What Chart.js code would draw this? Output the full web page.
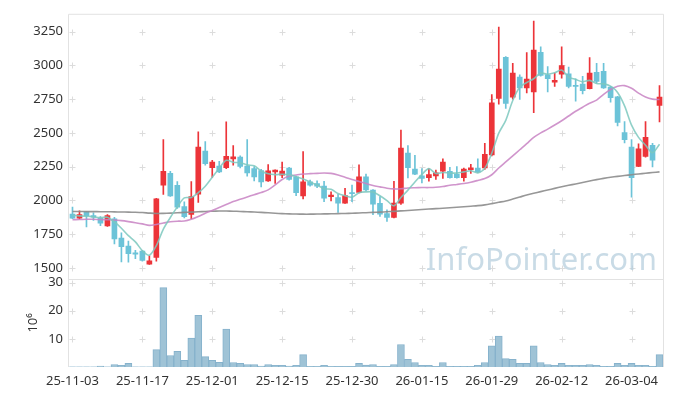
<!DOCTYPE html>
<html>
<head>
<meta charset="utf-8">
<script src="https://cdn.jsdelivr.net/npm/chart.js@4/dist/chart.umd.min.js"></script>
<style>
  html, body { margin: 0; padding: 0; background: #fff; }
  canvas { display: block; }
</style>
</head>
<body>
<canvas id="stockChart" width="673" height="396"></canvas>
<script>
// ===== DATA =====
const labels = [
  "25-11-03","25-11-04","25-11-05","25-11-06","25-11-07","25-11-10","25-11-11","25-11-12","25-11-13","25-11-14",
  "25-11-17","25-11-18","25-11-19","25-11-20","25-11-21","25-11-24","25-11-25","25-11-26","25-11-27","25-11-28",
  "25-12-01","25-12-02","25-12-03","25-12-04","25-12-05","25-12-08","25-12-09","25-12-10","25-12-11","25-12-12",
  "25-12-15","25-12-16","25-12-17","25-12-18","25-12-19","25-12-22","25-12-23","25-12-24","25-12-26","25-12-29",
  "25-12-30","26-01-02","26-01-05","26-01-06","26-01-07","26-01-08","26-01-09","26-01-12","26-01-13","26-01-14",
  "26-01-15","26-01-16","26-01-19","26-01-20","26-01-21","26-01-22","26-01-23","26-01-26","26-01-27","26-01-28",
  "26-01-29","26-01-30","26-02-02","26-02-03","26-02-04","26-02-05","26-02-06","26-02-09","26-02-10","26-02-11",
  "26-02-12","26-02-13","26-02-19","26-02-20","26-02-23","26-02-24","26-02-25","26-02-26","26-02-27","26-03-03",
  "26-03-04","26-03-05","26-03-06","26-03-09","26-03-10"
];

const openPrices = [
  1898, 1869, 1916, 1888, 1869, 1810, 1864, 1720, 1661, 1612,
  1625, 1527, 1577, 2113, 2201, 2112, 1954, 1897, 2047, 2365,
  2242, 2254, 2242, 2308, 2321, 2254, 2235, 2220, 2145, 2211,
  2186, 2240, 2174, 2033, 2137, 2125, 2106, 2028, 2020, 1979,
  2057, 2059, 2174, 2077, 1979, 1903, 1874, 1979, 2350, 2231,
  2181, 2169, 2182, 2216, 2216, 2194, 2169, 2228, 2240, 2240,
  2337, 2755, 3060, 2765, 2913, 2833, 2804, 3096, 2930, 2875,
  2935, 2938, 2852, 2862, 2828, 2948, 2955, 2840, 2767, 2503,
  2394, 2252, 2326, 2408, 2704
];
const highPrices = [
  1950, 1923, 1918, 1908, 1881, 1895, 1875, 1760, 1698, 1630,
  1630, 1590, 2015, 2450, 2215, 2140, 1990, 2140, 2508, 2435,
  2296, 2290, 2582, 2406, 2330, 2450, 2250, 2230, 2265, 2226,
  2284, 2245, 2180, 2362, 2150, 2145, 2142, 2064, 2044, 2089,
  2113, 2264, 2195, 2080, 2029, 1930, 2142, 2520, 2406, 2333,
  2235, 2235, 2224, 2308, 2245, 2250, 2240, 2267, 2308, 2423,
  2784, 3284, 3065, 3016, 2930, 3094, 3328, 3138, 2991, 2943,
  3138, 2987, 2900, 2918, 3057, 3016, 3016, 2845, 2770, 2584,
  2450, 2418, 2584, 2423, 2850
];
const lowPrices = [
  1865, 1862, 1803, 1852, 1813, 1808, 1678, 1545, 1543, 1569,
  1550, 1525, 1550, 2045, 2030, 1940, 1870, 1865, 1985, 2260,
  2170, 2205, 2235, 2260, 2240, 2180, 2145, 2100, 2140, 2125,
  2169, 2150, 2035, 2011, 2105, 2095, 1990, 1996, 1910, 1978,
  1990, 2055, 2070, 1894, 1882, 1845, 1870, 1970, 2167, 2190,
  2130, 2142, 2155, 2162, 2165, 2165, 2142, 2199, 2205, 2230,
  2330, 2713, 2681, 2750, 2747, 2796, 2650, 2920, 2804, 2845,
  2906, 2833, 2735, 2789, 2825, 2869, 2830, 2728, 2552, 2425,
  2023, 2250, 2320, 2247, 2582
];
const closePrices = [
  1869, 1894, 1887, 1876, 1832, 1888, 1715, 1657, 1605, 1601,
  1555, 1552, 2011, 2216, 2033, 1950, 1880, 2029, 2394, 2272,
  2284, 2210, 2327, 2323, 2252, 2203, 2174, 2137, 2219, 2224,
  2218, 2155, 2057, 2137, 2113, 2106, 2016, 2040, 1979, 2035,
  2050, 2174, 2077, 1972, 1898, 1874, 1981, 2387, 2242, 2195,
  2162, 2191, 2204, 2284, 2169, 2169, 2231, 2242, 2210, 2342,
  2723, 2972, 2718, 2943, 2833, 2899, 3113, 2925, 2901, 2889,
  2999, 2845, 2845, 2813, 2943, 2882, 2833, 2760, 2577, 2450,
  2169, 2381, 2467, 2298, 2765
];

// volume, millions of shares
const volumes = [
  0.1, 0.05, 0.05, 0.05, 0.35, 0.05, 0.9, 0.6, 1.3, 0.05,
  0.05, 0.1, 6.2, 28.2, 4.1, 5.6, 2.4, 10.3, 18.4, 3.7,
  2.4, 1.7, 13.5, 1.6, 1.3, 0.9, 0.9, 0.35, 0.9, 0.6,
  0.6, 0.35, 0.6, 4.4, 0.25, 0.25, 0.6, 0.25, 0.2, 0.2,
  0.2, 1.3, 0.7, 0.9, 0.2, 0.2, 0.9, 8.0, 2.7, 1.6,
  0.6, 0.6, 0.2, 1.6, 0.2, 0.2, 0.2, 0.2, 0.6, 1.6,
  7.5, 11.0, 3.0, 2.7, 1.3, 1.3, 7.5, 1.6, 0.9, 0.6,
  1.3, 0.6, 0.6, 0.6, 0.9, 0.6, 0.2, 0.2, 1.3, 0.6,
  1.3, 0.6, 0.6, 0.2, 4.4
];

const ma5 = [
  1890, 1885, 1882, 1878, 1872, 1875, 1840, 1794, 1739, 1693,
  1627, 1594, 1665, 1787, 1873, 1952, 2018, 2022, 2057, 2105,
  2172, 2238, 2297, 2283, 2279, 2263, 2256, 2218, 2197, 2191,
  2194, 2191, 2175, 2158, 2136, 2114, 2086, 2082, 2051, 2035,
  2024, 2056, 2063, 2062, 2034, 1999, 1960, 2022, 2076, 2136,
  2193, 2235, 2199, 2207, 2202, 2203, 2211, 2219, 2204, 2239,
  2350, 2498, 2593, 2740, 2838, 2873, 2901, 2943, 2934, 2945,
  2965, 2912, 2896, 2878, 2889, 2866, 2863, 2846, 2799, 2700,
  2558, 2467, 2409, 2353, 2416
];
const ma20 = [
  1857, 1858, 1860, 1860, 1858, 1857, 1855, 1850, 1843, 1835,
  1826, 1815, 1822, 1832, 1842, 1846, 1847, 1860, 1881, 1905,
  1925, 1948, 1970, 1991, 2008, 2025, 2042, 2058, 2078, 2115,
  2155, 2180, 2188, 2195, 2198, 2200, 2203, 2200, 2188, 2172,
  2155, 2140, 2125, 2110, 2100, 2090, 2085, 2086, 2092, 2094,
  2095, 2095, 2097, 2103, 2112, 2118, 2125, 2135, 2148, 2162,
  2190, 2240, 2285, 2330, 2375, 2420, 2467, 2500, 2528, 2558,
  2590, 2625, 2660, 2690, 2720, 2743, 2785, 2821, 2845, 2850,
  2830, 2795, 2765, 2750, 2747
];
const ma120 = [
  1918, 1918, 1917, 1917, 1916, 1916, 1915, 1914, 1913, 1912,
  1910, 1906, 1903, 1904, 1906, 1908, 1911, 1913, 1916, 1918,
  1920, 1921, 1921, 1920, 1918, 1916, 1914, 1911, 1908, 1905,
  1902, 1900, 1899, 1898, 1898, 1899, 1900, 1901, 1902, 1903,
  1905, 1907, 1909, 1911, 1913, 1916, 1919, 1922, 1925, 1929,
  1933, 1936, 1939, 1942, 1945, 1949, 1953, 1957, 1961, 1967,
  1976, 1986, 1996, 2010, 2025, 2040, 2053, 2065, 2077, 2089,
  2101, 2112, 2122, 2133, 2144, 2154, 2163, 2171, 2178, 2184,
  2190, 2196, 2201, 2206, 2211
];

const priceTicks = [1500, 1750, 2000, 2250, 2500, 2750, 3000, 3250];
const volumeTicks = [10, 20, 30];

// ===== STYLE =====
const UP = "#ec3439";
const DOWN = "#6cc3d8";
const FONT = { family: "'Noto Sans', sans-serif", size: 13 };
const TEXT = "#333";

const candleColors = closePrices.map((c, i) => (c >= openPrices[i] ? UP : DOWN));

// ===== PLUGINS =====
const gridCrosses = {
  id: "gridCrosses",
  beforeDatasetsDraw(chart) {
    const { ctx, scales, chartArea } = chart;
    ctx.save();

    // frame: left, top, right + pane divider
    ctx.strokeStyle = "#e2e2e2";
    ctx.lineWidth = 1;
    ctx.beginPath();
    ctx.moveTo(chartArea.left - 0.5, chartArea.bottom);
    ctx.lineTo(chartArea.left - 0.5, chartArea.top + 0.5);
    ctx.lineTo(chartArea.right + 0.5, chartArea.top + 0.5);
    ctx.lineTo(chartArea.right + 0.5, chartArea.bottom);
    const divY = Math.round(scales.y.bottom) + 0.5;
    ctx.moveTo(chartArea.left, divY);
    ctx.lineTo(chartArea.right, divY);
    ctx.stroke();

    // small "+" marks where the x ticks meet the y ticks
    const xs = [];
    for (let i = 0; i < labels.length; i += 10) {
      xs.push(scales.x.getPixelForValue(i));
    }
    const ys = [];
    priceTicks.forEach((v) => ys.push(scales.y.getPixelForValue(v)));
    volumeTicks.forEach((v) => ys.push(scales.yv.getPixelForValue(v)));

    ctx.strokeStyle = "#dcdcdc";
    ctx.beginPath();
    xs.forEach((x) => {
      ys.forEach((y) => {
        const px = Math.round(x) + 0.5;
        const py = Math.round(y) + 0.5;
        ctx.moveTo(px - 3, py);
        ctx.lineTo(px + 3, py);
        ctx.moveTo(px, py - 3);
        ctx.lineTo(px, py + 3);
      });
    });
    ctx.stroke();

    // watermark
    ctx.fillStyle = "rgba(180, 205, 220, 0.72)";
    ctx.font = "31px 'Noto Sans', sans-serif";
    ctx.textAlign = "right";
    ctx.textBaseline = "alphabetic";
    ctx.fillText("InfoPointer.com", chartArea.right - 6, scales.y.bottom - 9);
    ctx.restore();
  },
};

// ===== CHART =====
new Chart(document.getElementById("stockChart"), {
  type: "bar",
  data: {
    labels: labels,
    datasets: [
      {
        type: "line",
        label: "MA5",
        data: ma5,
        yAxisID: "y",
        borderColor: "rgba(125, 200, 190, 0.85)",
        borderWidth: 1.6,
        pointRadius: 0,
        tension: 0.3,
        order: 0,
      },
      {
        type: "line",
        label: "MA20",
        data: ma20,
        yAxisID: "y",
        borderColor: "rgba(200, 130, 195, 0.85)",
        borderWidth: 1.6,
        pointRadius: 0,
        tension: 0.3,
        order: 0,
      },
      {
        type: "line",
        label: "MA120",
        data: ma120,
        yAxisID: "y",
        borderColor: "rgba(140, 140, 140, 0.9)",
        borderWidth: 1.6,
        pointRadius: 0,
        tension: 0.3,
        order: 0,
      },
      {
        label: "body",
        data: openPrices.map((o, i) => [o, closePrices[i]]),
        yAxisID: "y",
        backgroundColor: candleColors,
        barThickness: 5,
        minBarLength: 1,
        grouped: false,
        order: 1,
      },
      {
        label: "wick",
        data: lowPrices.map((l, i) => [l, highPrices[i]]),
        yAxisID: "y",
        backgroundColor: candleColors,
        barThickness: 1,
        grouped: false,
        order: 2,
      },
      {
        label: "volume",
        data: volumes,
        yAxisID: "yv",
        backgroundColor: "#9fc3d6",
        borderColor: "#86b2cc",
        borderWidth: 1,
        barPercentage: 1,
        categoryPercentage: 1,
        grouped: false,
        order: 3,
      },
    ],
  },
  options: {
    responsive: false,
    animation: false,
    devicePixelRatio: 1,
    layout: { padding: { left: 0, right: 10, top: 10, bottom: 0 } },
    plugins: {
      legend: { display: false },
      tooltip: { enabled: false },
    },
    scales: {
      x: {
        type: "category",
        offset: true,
        grid: { display: false, drawTicks: false },
        border: { display: false },
        ticks: {
          autoSkip: false,
          maxRotation: 0,
          padding: 6,
          font: FONT,
          color: TEXT,
          callback: (v, i) => (i % 10 === 0 ? labels[i] : null),
        },
        afterFit: (s) => { s.height = 29; },
      },
      // left boxes are stacked in reverse order: the volume pane is listed first so it ends up below
      yv: {
        type: "linear",
        position: "left",
        stack: "pane",
        stackWeight: 1,
        min: 0,
        max: 31.4,
        grid: { display: false, drawTicks: false },
        border: { display: false },
        afterBuildTicks: (s) => { s.ticks = volumeTicks.map((v) => ({ value: v })); },
        ticks: { padding: 6, font: FONT, color: TEXT, autoSkip: false, callback: (v) => String(v) },
        title: {
          display: true,
          text: "10⁶",
          font: FONT,
          color: TEXT,
          padding: { top: 25, bottom: 0 },
        },
        afterFit: (s) => { s.width = 69; },
      },
      y: {
        type: "linear",
        position: "left",
        stack: "pane",
        stackWeight: 3,
        min: 1420,
        max: 3382,
        grid: { display: false, drawTicks: false },
        border: { display: false },
        afterBuildTicks: (s) => { s.ticks = priceTicks.map((v) => ({ value: v })); },
        ticks: { padding: 6, font: FONT, color: TEXT, autoSkip: false, callback: (v) => String(v) },
        afterFit: (s) => { s.width = 69; },
      },
    },
  },
  plugins: [gridCrosses],
});
</script>
</body>
</html>
